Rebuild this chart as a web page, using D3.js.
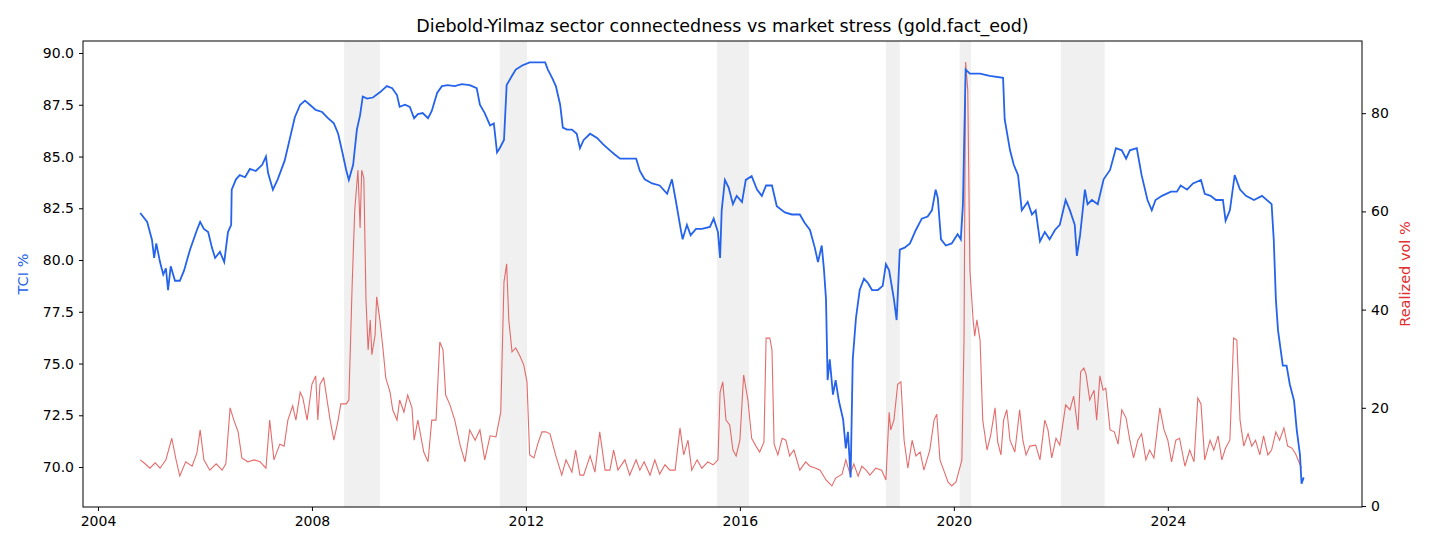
<!DOCTYPE html>
<html lang="en">
<head>
  <meta charset="UTF-8">
  <title>Connectedness vs market stress</title>
  <style>
    body { margin: 0; background: #fff; }
    text { font-family: "DejaVu Sans", sans-serif; }
  </style>
</head>
<body>
  <svg id="svg" width="1430" height="550"></svg>
  <script src="https://d3js.org/d3.v7.min.js"></script>
  <script>
    // stress windows (decimal years)
    const stressWindows = [
      [2008.6, 2009.27], [2011.51, 2012.02], [2015.57, 2016.17],
      [2018.73, 2018.99], [2020.11, 2020.32], [2022.0, 2022.82]
    ]

    // Total connectedness index, [decimal year, %]
    const tci = [
      [2004.79,82.27],[2004.92,81.84],[2005.01,80.97],[2005.05,80.1],[2005.09,80.8],[2005.16,79.9],[2005.22,79.3],[2005.27,79.6],[2005.31,78.55],[2005.36,79.7],[2005.44,79.0],[2005.53,79.0],[2005.61,79.5],[2005.72,80.5],
      [2005.85,81.45],[2005.91,81.84],[2005.98,81.5],[2006.06,81.35],[2006.13,80.6],[2006.19,80.1],[2006.28,80.4],[2006.36,79.9],[2006.43,81.35],[2006.49,81.7],[2006.5,83.4],[2006.58,83.9],[2006.65,84.1],[2006.75,84.0],
      [2006.84,84.4],[2006.95,84.3],[2007.07,84.6],[2007.14,85.0],[2007.18,84.2],[2007.27,83.4],[2007.36,83.9],[2007.49,84.8],[2007.59,85.9],[2007.68,86.9],[2007.78,87.5],[2007.87,87.7],[2007.96,87.5],[2008.07,87.25],
      [2008.19,87.15],[2008.3,86.85],[2008.41,86.6],[2008.49,86.1],[2008.56,85.3],[2008.64,84.35],[2008.69,83.87],[2008.77,84.6],[2008.84,86.3],[2008.9,87.0],[2008.95,87.9],[2009.03,87.8],[2009.14,87.85],[2009.27,88.1],
      [2009.4,88.4],[2009.5,88.3],[2009.59,87.97],[2009.64,87.4],[2009.74,87.5],[2009.83,87.4],[2009.91,86.85],[2009.98,87.05],[2010.07,87.1],[2010.17,86.85],[2010.24,87.2],[2010.34,88.07],[2010.43,88.4],[2010.54,88.45],
      [2010.67,88.4],[2010.8,88.5],[2010.95,88.45],[2011.08,88.3],[2011.14,87.5],[2011.23,87.1],[2011.33,86.5],[2011.4,86.6],[2011.46,85.2],[2011.51,85.4],[2011.59,85.8],[2011.64,88.45],[2011.74,88.9],[2011.81,89.2],
      [2011.93,89.4],[2012.07,89.55],[2012.26,89.55],[2012.36,89.55],[2012.41,89.2],[2012.49,88.8],[2012.56,88.4],[2012.64,87.5],[2012.69,86.4],[2012.77,86.3],[2012.86,86.3],[2012.95,86.1],[2013.01,85.4],[2013.08,85.8],
      [2013.2,86.1],[2013.33,85.9],[2013.44,85.6],[2013.57,85.3],[2013.66,85.1],[2013.76,84.9],[2014.06,84.9],[2014.13,84.3],[2014.22,83.9],[2014.36,83.7],[2014.5,83.6],[2014.64,83.2],[2014.73,83.9],[2014.8,82.9],
      [2014.9,81.4],[2014.93,81.0],[2015.01,81.7],[2015.08,81.2],[2015.18,81.5],[2015.29,81.5],[2015.44,81.6],[2015.51,82.0],[2015.59,81.35],[2015.63,80.1],[2015.66,82.4],[2015.72,83.87],[2015.79,83.5],[2015.87,82.7],
      [2015.94,83.1],[2016.04,82.8],[2016.11,83.87],[2016.22,84.05],[2016.32,83.4],[2016.41,83.1],[2016.49,83.6],[2016.6,83.6],[2016.69,82.6],[2016.84,82.3],[2016.97,82.2],[2017.12,82.2],[2017.21,81.8],[2017.31,81.45],
      [2017.4,80.6],[2017.46,79.9],[2017.53,80.7],[2017.57,79.6],[2017.61,78.1],[2017.64,74.2],[2017.68,75.2],[2017.74,73.5],[2017.79,74.2],[2017.85,73.2],[2017.93,72.3],[2017.98,70.9],[2018.02,71.7],[2018.07,69.5],
      [2018.11,75.2],[2018.17,77.2],[2018.24,78.55],[2018.32,79.1],[2018.39,78.9],[2018.47,78.55],[2018.58,78.55],[2018.67,78.75],[2018.73,79.8],[2018.79,79.5],[2018.88,78.1],[2018.93,77.1],[2018.99,80.5],[2019.08,80.6],
      [2019.18,80.8],[2019.29,81.45],[2019.4,82.0],[2019.51,82.1],[2019.59,82.4],[2019.66,83.4],[2019.7,83.0],[2019.76,81.0],[2019.85,80.7],[2019.96,80.8],[2020.07,81.25],[2020.13,81.0],[2020.17,82.7],[2020.22,89.2],
      [2020.3,89.0],[2020.49,89.0],[2020.67,88.9],[2020.92,88.8],[2020.95,86.8],[2021.05,85.3],[2021.12,84.6],[2021.2,84.1],[2021.27,82.4],[2021.38,82.8],[2021.46,82.2],[2021.53,82.4],[2021.61,80.9],[2021.7,81.35],
      [2021.79,81.0],[2021.89,81.45],[2021.98,81.7],[2022.09,82.9],[2022.17,82.4],[2022.26,81.7],[2022.3,80.2],[2022.36,81.2],[2022.45,83.4],[2022.5,82.7],[2022.58,82.9],[2022.69,82.7],[2022.8,83.9],[2022.92,84.35],
      [2023.03,85.4],[2023.14,85.3],[2023.22,84.9],[2023.29,85.3],[2023.42,85.4],[2023.51,84.1],[2023.62,82.9],[2023.7,82.4],[2023.77,82.9],[2023.89,83.1],[2024.06,83.3],[2024.17,83.3],[2024.24,83.6],[2024.36,83.4],
      [2024.47,83.7],[2024.62,83.87],[2024.69,83.2],[2024.8,83.1],[2024.9,82.9],[2025.03,82.9],[2025.08,81.9],[2025.16,82.4],[2025.25,84.1],[2025.35,83.4],[2025.46,83.1],[2025.61,82.9],[2025.76,83.1],[2025.94,82.7],
      [2025.98,81.0],[2026.02,78.1],[2026.06,76.6],[2026.15,74.9],[2026.22,74.9],[2026.28,74.0],[2026.36,73.2],[2026.41,71.8],[2026.47,70.6],[2026.5,69.2],[2026.54,69.5]
    ]

    // Realized volatility, [decimal year, %]
    const vol = [
      [2004.79,9.4],[2004.88,8.6],[2004.97,7.7],[2005.07,8.8],[2005.16,7.7],[2005.27,9.4],[2005.38,13.8],[2005.46,9.4],[2005.53,6.1],[2005.64,9.0],[2005.76,8.1],[2005.85,10.8],[2005.91,15.5],[2005.98,9.4],
      [2006.09,7.3],[2006.21,8.6],[2006.32,7.3],[2006.39,8.6],[2006.47,20.0],[2006.54,17.5],[2006.62,15.1],[2006.69,9.8],[2006.8,9.0],[2006.92,9.4],[2007.03,9.0],[2007.14,7.7],[2007.21,17.5],[2007.29,9.4],
      [2007.4,12.6],[2007.48,12.2],[2007.55,17.5],[2007.64,20.4],[2007.7,17.5],[2007.78,23.2],[2007.83,22.0],[2007.91,17.5],[2008.0,24.8],[2008.07,26.5],[2008.11,17.5],[2008.15,24.8],[2008.22,26.1],[2008.34,17.5],
      [2008.41,13.4],[2008.49,17.5],[2008.54,20.8],[2008.64,20.8],[2008.69,21.6],[2008.75,44.4],[2008.8,60.3],[2008.86,68.4],[2008.9,56.6],[2008.93,68.4],[2008.97,66.8],[2009.01,42.0],[2009.05,31.8],[2009.09,37.9],
      [2009.12,30.8],[2009.18,34.8],[2009.21,42.6],[2009.27,37.9],[2009.33,31.8],[2009.38,26.1],[2009.46,23.2],[2009.51,19.6],[2009.59,17.5],[2009.64,21.6],[2009.72,19.1],[2009.79,22.6],[2009.87,20.0],[2009.91,13.4],
      [2009.98,17.5],[2010.09,11.0],[2010.17,9.0],[2010.24,17.5],[2010.32,17.5],[2010.39,33.4],[2010.45,31.8],[2010.5,22.6],[2010.58,20.6],[2010.67,17.5],[2010.77,12.4],[2010.86,9.0],[2010.95,15.5],[2011.05,13.4],
      [2011.14,15.5],[2011.23,9.4],[2011.33,14.3],[2011.44,14.1],[2011.53,19.1],[2011.59,45.6],[2011.64,49.3],[2011.68,37.9],[2011.74,31.4],[2011.81,32.2],[2011.89,30.5],[2011.96,28.7],[2012.02,25.3],[2012.07,10.4],
      [2012.15,9.8],[2012.22,12.6],[2012.3,15.1],[2012.37,15.1],[2012.45,14.7],[2012.56,10.2],[2012.67,6.3],[2012.75,9.4],[2012.86,6.9],[2012.93,11.4],[2013.01,6.3],[2013.08,6.3],[2013.2,10.2],[2013.29,6.9],
      [2013.38,15.1],[2013.48,7.3],[2013.57,7.3],[2013.64,11.4],[2013.72,7.3],[2013.85,9.4],[2013.94,6.3],[2014.06,9.4],[2014.13,7.3],[2014.21,9.0],[2014.32,6.3],[2014.41,9.4],[2014.5,6.5],[2014.6,8.4],
      [2014.69,7.3],[2014.79,7.3],[2014.88,15.9],[2014.95,10.4],[2015.03,13.4],[2015.1,7.3],[2015.2,9.4],[2015.29,7.7],[2015.4,9.0],[2015.5,8.4],[2015.59,9.4],[2015.63,23.2],[2015.68,25.3],[2015.74,17.5],
      [2015.81,16.5],[2015.87,11.4],[2015.93,10.2],[2016.0,13.4],[2016.07,26.7],[2016.15,21.6],[2016.22,13.8],[2016.3,12.2],[2016.37,11.0],[2016.45,13.0],[2016.49,34.2],[2016.56,34.2],[2016.6,31.8],[2016.64,12.6],
      [2016.71,10.4],[2016.79,13.8],[2016.86,13.4],[2016.93,10.2],[2017.01,11.4],[2017.12,7.3],[2017.23,9.0],[2017.31,8.1],[2017.42,7.7],[2017.5,7.3],[2017.61,5.3],[2017.72,4.1],[2017.79,5.7],[2017.91,6.5],
      [2017.98,9.4],[2018.06,6.5],[2018.13,8.6],[2018.21,6.1],[2018.28,8.1],[2018.36,7.3],[2018.43,6.3],[2018.54,7.7],[2018.65,7.3],[2018.73,5.3],[2018.79,19.1],[2018.82,15.5],[2018.88,17.5],[2018.95,24.8],
      [2019.01,25.3],[2019.07,13.4],[2019.14,7.7],[2019.22,13.4],[2019.29,10.2],[2019.37,11.0],[2019.44,7.3],[2019.55,11.4],[2019.63,17.5],[2019.68,18.7],[2019.74,9.4],[2019.81,7.3],[2019.89,4.9],[2019.96,4.1],
      [2020.04,4.9],[2020.11,7.7],[2020.15,9.4],[2020.19,33.8],[2020.22,90.4],[2020.26,84.7],[2020.3,48.1],[2020.36,37.9],[2020.39,34.6],[2020.43,37.9],[2020.49,33.8],[2020.54,17.5],[2020.62,11.4],[2020.69,14.5],
      [2020.77,20.0],[2020.82,13.0],[2020.88,10.4],[2020.93,17.5],[2020.99,19.6],[2021.05,13.4],[2021.14,11.0],[2021.23,19.6],[2021.29,13.4],[2021.35,10.4],[2021.42,12.2],[2021.53,12.4],[2021.61,9.4],[2021.7,17.5],
      [2021.76,15.5],[2021.83,9.8],[2021.91,13.8],[2021.98,12.4],[2022.09,20.6],[2022.17,19.6],[2022.24,22.4],[2022.32,15.5],[2022.37,27.3],[2022.43,28.1],[2022.47,26.9],[2022.54,21.6],[2022.62,23.6],[2022.67,17.5],
      [2022.73,26.5],[2022.79,23.6],[2022.84,24.0],[2022.92,15.5],[2023.0,15.1],[2023.07,12.6],[2023.14,19.6],[2023.22,17.9],[2023.29,13.4],[2023.36,9.8],[2023.44,13.4],[2023.51,14.7],[2023.59,9.4],[2023.66,11.4],
      [2023.74,9.8],[2023.85,20.0],[2023.93,15.5],[2024.0,13.4],[2024.07,9.0],[2024.15,13.4],[2024.22,13.8],[2024.32,8.1],[2024.41,11.4],[2024.49,9.0],[2024.56,22.0],[2024.62,20.8],[2024.69,9.4],[2024.79,13.4],
      [2024.86,11.4],[2024.94,14.3],[2025.01,9.4],[2025.08,11.8],[2025.16,13.4],[2025.23,34.2],[2025.29,33.8],[2025.35,17.5],[2025.42,12.2],[2025.5,14.7],[2025.57,12.2],[2025.64,13.4],[2025.72,10.4],[2025.79,14.3],
      [2025.87,10.4],[2025.94,11.4],[2026.02,15.1],[2026.09,13.4],[2026.17,15.9],[2026.24,12.2],[2026.32,11.8],[2026.39,10.6],[2026.45,9.0],[2026.5,7.7]
    ]

    const yearTicks = [2004, 2008, 2012, 2016, 2020, 2024]
    const tciTicks = [70, 72.5, 75, 77.5, 80, 82.5, 85, 87.5, 90]
    const volTicks = [0, 20, 40, 60, 80]

    const m = { left: 83, right: 1362, top: 41, bottom: 507 }
    const svg = d3.select('#svg')

    const x = d3.scaleLinear().domain([2003.72, 2027.63]).range([m.left, m.right])
    const yL = d3.scaleLinear().domain([68.07, 90.58]).range([m.bottom, m.top])
    const yR = d3.scaleLinear().domain([-0.2, 94.7]).range([m.bottom, m.top])

    // shaded stress periods
    svg.selectAll('rect.stress')
      .data(stressWindows)
      .enter()
      .append('rect')
      .attr('x', d => x(d[0]))
      .attr('width', d => x(d[1]) - x(d[0]))
      .attr('y', m.top)
      .attr('height', m.bottom - m.top)
      .attr('fill', '#808080')
      .attr('opacity', 0.12)

    const volLine = d3.line().x(d => x(d[0])).y(d => yR(d[1]))
    const tciLine = d3.line().x(d => x(d[0])).y(d => yL(d[1]))

    svg.append('path')
      .datum(vol)
      .attr('d', volLine)
      .attr('fill', 'none')
      .attr('stroke', '#e05252')
      .attr('stroke-opacity', 0.85)
      .attr('stroke-width', 1.1)

    svg.append('path')
      .datum(tci)
      .attr('d', tciLine)
      .attr('fill', 'none')
      .attr('stroke', '#2563eb')
      .attr('stroke-width', 1.8)

    // frame
    svg.append('rect')
      .attr('x', m.left).attr('y', m.top)
      .attr('width', m.right - m.left).attr('height', m.bottom - m.top)
      .attr('fill', 'none').attr('stroke', '#000').attr('stroke-width', 1)

    const styleAxis = g => {
      g.select('.domain').remove()
      g.selectAll('text').attr('font-size', 14).attr('fill', '#000').style('font-family', 'DejaVu Sans')
      g.selectAll('line').attr('stroke', '#000')
    }

    svg.append('g')
      .attr('transform', `translate(0,${m.bottom})`)
      .call(d3.axisBottom(x).tickValues(yearTicks).tickFormat(d3.format('d')).tickSize(4).tickPadding(5))
      .call(styleAxis)

    svg.append('g')
      .attr('transform', `translate(${m.left},0)`)
      .call(d3.axisLeft(yL).tickValues(tciTicks).tickFormat(d3.format('.1f')).tickSize(4).tickPadding(5))
      .call(styleAxis)

    svg.append('g')
      .attr('transform', `translate(${m.right},0)`)
      .call(d3.axisRight(yR).tickValues(volTicks).tickSize(4).tickPadding(5))
      .call(styleAxis)

    svg.append('text')
      .attr('x', (m.left + m.right) / 2).attr('y', 32)
      .attr('text-anchor', 'middle').attr('font-size', 17.5)
      .text('Diebold-Yilmaz sector connectedness vs market stress (gold.fact_eod)')

    svg.append('text')
      .attr('transform', `translate(28,${(m.top + m.bottom) / 2}) rotate(-90)`)
      .attr('text-anchor', 'middle').attr('font-size', 14.5).attr('fill', '#2563eb')
      .text('TCI %')

    svg.append('text')
      .attr('transform', `translate(1410,${(m.top + m.bottom) / 2}) rotate(-90)`)
      .attr('text-anchor', 'middle').attr('font-size', 14.5).attr('fill', '#e03030')
      .text('Realized vol %')
  </script>
</body>
</html>
